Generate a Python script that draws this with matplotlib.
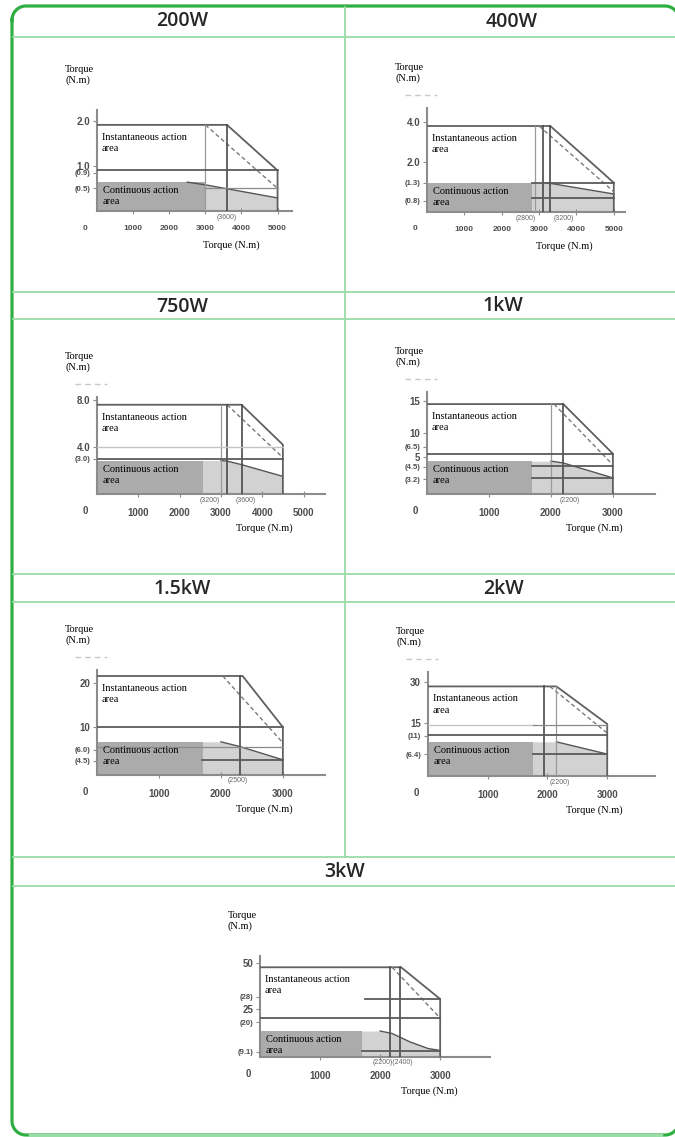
import numpy as np
import matplotlib.pyplot as plt

W, H = 675, 1137

# ---- data (speed in rpm, torque in N.m) ----
titles = ["200W", "400W", "750W", "1kW", "1.5kW", "2kW", "3kW"]
peak = [1.91, 3.82, 7.6, 14.5, 21.5, 28.6, 47.7]
knee = [3600, 3300, 3500, 2200, 2350, 2150, 2350]
max_speed = [5000, 5000, 4500, 3000, 3000, 3000, 3000]
peak_end = [0.9, 1.3, 4.2, 6.5, 10.4, 16.6, 30.8]
dash_start = [3000, 3000, 3150, 2050, 2030, 2040, 2200]
dash_end = [0.5, 0.9, 3.1, 4.7, 7.0, 13.7, 20.7]
box_end = [3000, 2800, 2570, 1700, 1710, 1750, 1700]
cont_speed = [[0, 2500, 3000, 5000], [0, 3200, 5000], [0, 3000, 3150, 3500, 4500],
              [0, 2000, 2200, 3000], [0, 2000, 2300, 3000], [0, 2150, 3000],
              [0, 2000, 2200, 2500, 2800, 3000]]
cont_torque = [[0.64, 0.64, 0.58, 0.29], [1.3, 1.3, 0.8], [2.85, 2.85, 2.8, 2.5, 1.5],
               [5.3, 5.3, 5.0, 2.6], [7.2, 7.2, 6.2, 3.3], [10.9, 10.9, 7.0],
               [13.8, 13.8, 12.5, 8.0, 4.5, 3.5]]
thin_v = [[3000], [2900], [3000], [2000], [], [2150], []]
dark_v = [[3600], [3100, 3300], [3150, 3500], [2200], [2300], [1950], [2170, 2330]]
# (torque, from speed, to speed, style)
h_lines = [
    [(0.9, 0, 5000, "dark"), (0.5, 3000, 5000, "thin")],
    [(1.3, 2800, 5000, "dark"), (0.6, 2800, 5000, "dark")],
    [(4.0, 0, 4500, "light"), (3.0, 0, 4500, "dark")],
    [(6.5, 0, 3000, "dark"), (4.5, 1700, 3000, "dark"), (2.6, 1700, 3000, "dark")],
    [(10.4, 0, 3000, "dark"), (6.0, 0, 3000, "thin"), (3.3, 1700, 3000, "dark")],
    [(16.3, 0, 1750, "light"), (16.3, 1750, 3000, "thin"), (13.1, 0, 3000, "dark"),
     (7.0, 1750, 3000, "dark")],
    [(30.8, 1750, 3000, "dark"), (20.7, 0, 3000, "dark"), (3.2, 1700, 3000, "dark")],
]
ytick_pos = [[2.0, 1.0, 0.85, 0.5], [4.0, 2.2, 1.3, 0.5], [8.0, 4.0, 3.0],
             [15, 9.8, 7.6, 6.0, 4.4, 2.4], [20, 10.4, 5.5, 3.1], [30, 16.9, 12.8, 7.0],
             [50, 32, 25.5, 18.6, 2.7]]
ytick_lab = [["2.0", "1.0", "(0.9)", "(0.5)"], ["4.0", "2.0", "(1.3)", "(0.8)"],
             ["8.0", "4.0", "(3.0)"], ["15", "10", "(6.5)", "5", "(4.5)", "(3.2)"],
             ["20", "10", "(6.0)", "(4.5)"], ["30", "15", "(11)", "(6.4)"],
             ["50", "(28)", "25", "(20)", "(9.1)"]]
xticks = [[1000, 2000, 3000, 4000, 5000]] * 3 + [[1000, 2000, 3000]] * 4
speed_lab = [["(3600)"], ["(2800)", "(3200)"], ["(3200)", "(3600)"], ["(2200)"],
             ["(2500)"], ["(2200)"], ["(2200)(2400)"]]
speed_lab_pos = [[3600], [2630, 3650], [2740, 3600], [2300], [2270], [2200], [2220]]

# ---- layout (pixels) ----
boxes = [(97, 110, 292, 211), (427, 108, 625, 212), (97, 397, 325, 494),
         (427, 392, 655, 494), (97, 670, 325, 775), (428, 672, 655, 776),
         (260, 956, 490, 1057)]
xmax = [5400, 5300, 5520, 3680, 3680, 3800, 3830]
ymax = [2.24, 4.62, 8.26, 16.45, 22.8, 33.2, 53.7]
xtick_size = [6, 6, 7, 7, 7, 7, 7]
title_pos = [(182, 21), (512, 22), (182, 307), (503, 306), (182, 589), (503, 589), (345, 872)]

SERIF = "Liberation Serif"
SANS = "Liberation Sans"
GREEN = "#2fae42"
LIGHT_GREEN = "#98dca6"
TICK_COLOR = "#4d4d4d"
line_style = {"dark": ("#5a5a5a", 1.3), "thin": ("#8a8a8a", 0.9), "light": ("#c4c4c4", 1.0)}

fig = plt.figure(figsize=(W / 100, H / 100), dpi=100)
bg = fig.add_axes([0, 0, 1, 1])
bg.set_xlim(0, W)
bg.set_ylim(H, 0)
bg.axis("off")


def arc(cx, cy, r, a0, a1):
    a = np.radians(np.linspace(a0, a1, 20))
    return cx + r * np.cos(a), cy - r * np.sin(a)


# frame: rounded rectangle whose right edge runs just off the picture
x_l, x_r, y_t, y_b, rad = 12, 679, 6, 1135, 14
xs, ys = [], []
for cx, cy, a0, a1 in [(x_l + rad, y_t + rad, 180, 90), (x_r - rad, y_t + rad, 90, 0),
                       (x_r - rad, y_b - rad, 0, -90), (x_l + rad, y_b - rad, -90, -180)]:
    ax_, ay_ = arc(cx, cy, rad, a0, a1)
    xs.extend(ax_)
    ys.extend(ay_)
xs.append(xs[0])
ys.append(ys[0])
bg.plot(xs, ys, color=GREEN, lw=2.3)
bg.plot([x_l + rad + 4, x_r - rad - 4], [y_b, y_b], color=LIGHT_GREEN, lw=2.4)

for y in [37, 292, 319, 574, 602, 857, 886]:
    bg.plot([13, 675], [y, y], color=LIGHT_GREEN, lw=1.3)
bg.plot([345, 345], [7, 857], color=LIGHT_GREEN, lw=1.3)

for t, (x, y) in zip(titles, title_pos):
    bg.text(x, y, t, fontsize=14, family="Open Sans", fontweight="semibold",
            color="#262626", ha="center", va="center")

for i in range(7):
    l, t, r, b = boxes[i]
    ax = fig.add_axes([l / W, 1 - b / H, (r - l) / W, (b - t) / H])
    ax.set_xlim(0, xmax[i])
    ax.set_ylim(0, ymax[i])
    ax.patch.set_alpha(0)
    for s in ["top", "right"]:
        ax.spines[s].set_visible(False)
    for s in ["left", "bottom"]:
        ax.spines[s].set_color("#8c8c8c")
        ax.spines[s].set_linewidth(1.5)

    ms = max_speed[i]
    # continuous area
    ax.fill_between(cont_speed[i], 0, cont_torque[i], color="#d2d2d2", lw=0, zorder=1)
    ax.fill_between([0, box_end[i]], 0, cont_torque[i][0], color="#ababab", lw=0, zorder=2)
    ax.plot(cont_speed[i][1:], cont_torque[i][1:], color="#555555", lw=1.0, zorder=3)

    # instantaneous outline
    ax.plot([0, knee[i], ms, ms], [peak[i], peak[i], peak_end[i], 0],
            color="#606060", lw=1.3, zorder=4)
    ax.plot([dash_start[i], ms], [peak[i], dash_end[i]], color="#7a7a7a", lw=1.0,
            ls=(0, (3, 2)), zorder=4)
    for v in thin_v[i]:
        ax.plot([v, v], [0, peak[i]], color="#9a9a9a", lw=0.9, zorder=4)
    for v in dark_v[i]:
        ax.plot([v, v], [0, peak[i]], color="#4a4a4a", lw=1.2, zorder=4)
    for yv, x0, x1, st in h_lines[i]:
        c, w = line_style[st]
        ax.plot([x0, x1], [yv, yv], color=c, lw=w, zorder=4)

    # ticks
    ax.set_yticks(ytick_pos[i])
    ax.set_yticklabels(ytick_lab[i])
    for lab in ax.get_yticklabels():
        lab.set_fontsize(5.5 if lab.get_text().startswith("(") else 7)
        lab.set_family(SANS)
        lab.set_fontweight("bold")
        lab.set_color(TICK_COLOR)
    ax.tick_params(axis="y", length=3, width=0.8, color="#8c8c8c", pad=2)
    ax.set_xticks(xticks[i])
    ax.set_xticklabels([str(v) for v in xticks[i]], fontsize=xtick_size[i], family=SANS,
                       fontweight="bold", color=TICK_COLOR)
    ax.tick_params(axis="x", direction="inout", length=4, width=0.8, color="#8c8c8c", pad=8)
    ax.annotate("0", xy=(0, 0), xycoords="axes fraction", xytext=(-12, -17),
                textcoords="offset pixels", ha="center", va="center", fontsize=xtick_size[i],
                family=SANS, fontweight="bold", color=TICK_COLOR)
    for s, p in zip(speed_lab[i], speed_lab_pos[i]):
        ax.annotate(s, xy=(p, 0), xytext=(0, -6), textcoords="offset pixels",
                    ha="center", va="center", fontsize=5, family=SANS, color="#666666")

    # labels
    ax.annotate("Torque\n(N.m)", xy=(0, 1), xycoords="axes fraction", xytext=(-32, 35),
                textcoords="offset pixels", ha="left", va="center", fontsize=7.5,
                family=SERIF, linespacing=1.3)
    ax.annotate("Torque (N.m)", xy=(1, 0), xycoords="axes fraction", xytext=(-61, -34),
                textcoords="offset pixels", ha="center", va="center", fontsize=7.5,
                family=SERIF)
    ax.annotate("Instantaneous action\narea", xy=(0, peak[i]), xytext=(5, -8),
                textcoords="offset pixels", ha="left", va="top", fontsize=7.5,
                family=SERIF, linespacing=1.3, zorder=6)
    ax.annotate("Continuous action\narea", xy=(0, cont_torque[i][0]), xytext=(6, -4),
                textcoords="offset pixels", ha="left", va="top", fontsize=7.5,
                family=SERIF, linespacing=1.3, zorder=6)

    if i in (1, 2, 3, 4, 5):
        bg.plot([l - 22, l + 10], [t - 13, t - 13], color="#c8c8c8", lw=1, ls=(0, (4, 3)))

fig.savefig("out.png", dpi=100)
